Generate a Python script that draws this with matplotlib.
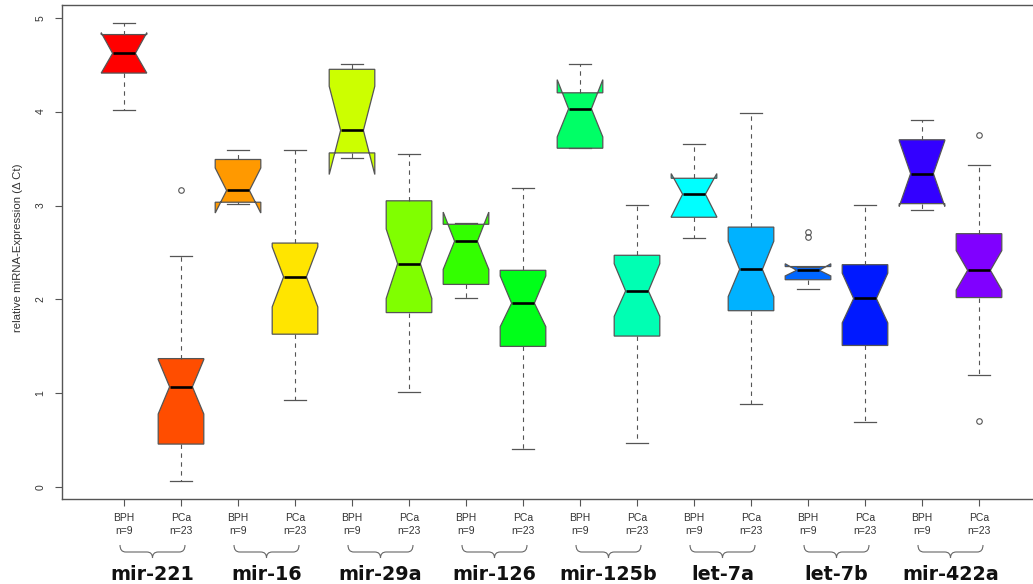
import colorsys
import matplotlib
matplotlib.use("Agg")
import matplotlib.pyplot as plt
from matplotlib.path import Path
from matplotlib.patches import PathPatch
from matplotlib.transforms import blended_transform_factory

plt.rcParams['font.family'] = ['Liberation Sans', 'DejaVu Sans']

# miRNAs (one BPH box + one PCa box each)
groups = ["mir-221", "mir-16", "mir-29a", "mir-126", "mir-125b", "let-7a", "let-7b", "mir-422a"]
conditions = ["BPH", "PCa"]
group_sizes = ["n=9", "n=23"]

# box statistics, in box order (BPH, PCa, BPH, PCa, ...)
whislo = [4.02, 0.07, 3.02, 0.93, 3.51, 1.01, 2.01, 0.41,
          3.61, 0.47, 2.65, 0.89, 2.11, 0.69, 2.95, 1.20]
q1 = [4.41, 0.46, 3.035, 1.63, 3.56, 1.86, 2.16, 1.50,
      3.61, 1.61, 2.875, 1.88, 2.21, 1.51, 3.02, 2.02]
notch_lo = [4.41, 0.78, 2.92, 1.92, 3.33, 2.01, 2.32, 1.71,
            3.73, 1.82, 2.88, 2.03, 2.25, 1.75, 2.99, 2.10]
median = [4.62, 1.07, 3.16, 2.24, 3.80, 2.38, 2.62, 1.96,
          4.03, 2.09, 3.12, 2.32, 2.31, 2.01, 3.34, 2.31]
notch_hi = [4.84, 1.36, 3.40, 2.56, 4.27, 2.75, 2.93, 2.25,
            4.34, 2.38, 3.34, 2.62, 2.38, 2.28, 3.69, 2.52]
q3 = [4.82, 1.37, 3.49, 2.60, 4.45, 3.05, 2.80, 2.31,
      4.20, 2.47, 3.29, 2.77, 2.35, 2.37, 3.70, 2.70]
whishi = [4.94, 2.46, 3.59, 3.59, 4.51, 3.55, 2.81, 3.19,
          4.51, 3.01, 3.66, 3.98, 2.35, 3.01, 3.91, 3.43]
outliers = [[], [3.17], [], [], [], [], [], [],
            [], [], [], [], [2.66, 2.72], [], [], [3.75, 0.71]]

n_box = len(median)
positions = list(range(1, n_box + 1))
colors = [colorsys.hsv_to_rgb(i / 20, 1, 1) for i in range(n_box)]
edge = '#555555'

stats = []
for i in range(n_box):
    stats.append(dict(med=median[i], q1=q1[i], q3=q3[i], whislo=whislo[i], whishi=whishi[i],
                      cilo=notch_lo[i], cihi=notch_hi[i], fliers=outliers[i]))

W, H = 1033, 584
fig = plt.figure(figsize=(W / 100, H / 100), dpi=100)
ax = fig.add_axes([62 / W, 1 - 499 / H, (1044 - 62) / W, 494 / H])

bp = ax.bxp(stats, positions=positions, widths=0.8, shownotches=True, patch_artist=True,
            boxprops=dict(edgecolor=edge, linewidth=0.9),
            medianprops=dict(color='black', linewidth=1.9),
            whiskerprops=dict(color=edge, linestyle=(0, (4, 4)), linewidth=0.8),
            capprops=dict(color=edge, linewidth=0.9),
            flierprops=dict(marker='o', markerfacecolor='none', markeredgecolor=edge,
                            markersize=4, markeredgewidth=0.8))
for patch, c in zip(bp['boxes'], colors):
    patch.set_facecolor(c)

# R style limits: 4% padding
lo = min(whislo + [v for o in outliers for v in o])
hi = max(whishi + [v for o in outliers for v in o])
pad = 0.04 * (hi - lo)
ax.set_ylim(lo - pad, hi + pad)
ax.set_xlim(1 - (124 - 62) / 57, 1 + (1044 - 124) / 57)

for s in ax.spines.values():
    s.set_color(edge)
    s.set_linewidth(1.0)

ax.set_yticks(range(6))
ax.set_yticklabels([str(v) for v in range(6)], rotation=90, va='center', fontsize=7.5, color='#333333')
ax.tick_params(axis='y', length=5, width=0.8, color=edge, pad=7)

ax.set_xticks(positions)
ax.set_xticklabels([f"{conditions[i % 2]}\n{group_sizes[i % 2]}" for i in range(n_box)],
                   fontsize=7.5, color='#333333', linespacing=1.45)
ax.tick_params(axis='x', length=5, width=0.8, color=edge, pad=5)

fig.text(18 / W, 1 - 248 / H, "relative miRNA-Expression (\u0394 Ct)", rotation=90,
         ha='center', va='center', fontsize=8.2, color='#333333')

# curly braces and miRNA names under each pair
tr = blended_transform_factory(ax.transData, fig.transFigure)
y_top, y_mid, y_tip = 1 - 545 / H, 1 - 552 / H, 1 - 558 / H
for k, name in enumerate(groups):
    p1, p2 = positions[2 * k], positions[2 * k + 1]
    xl, xr, xm, c = p1 - 0.07, p2 + 0.07, (p1 + p2) / 2, 0.1
    verts = [(xl, y_top), (xl, y_mid), (xl + c, y_mid),
             (xm - c, y_mid), (xm, y_mid), (xm, y_tip),
             (xm, y_mid), (xm + c, y_mid),
             (xr - c, y_mid), (xr, y_mid), (xr, y_top)]
    codes = [Path.MOVETO, Path.CURVE3, Path.CURVE3,
             Path.LINETO, Path.CURVE3, Path.CURVE3,
             Path.CURVE3, Path.CURVE3,
             Path.LINETO, Path.CURVE3, Path.CURVE3]
    ax.add_patch(PathPatch(Path(verts, codes), transform=tr, fill=False,
                           edgecolor='#666666', linewidth=0.8, clip_on=False))
    fig.text(xm, 1 - 575 / H, name, transform=tr, ha='center', va='center',
             fontsize=13.8, fontweight='bold', family='DejaVu Sans', color='#111111')

fig.savefig('out.png', dpi=100)
